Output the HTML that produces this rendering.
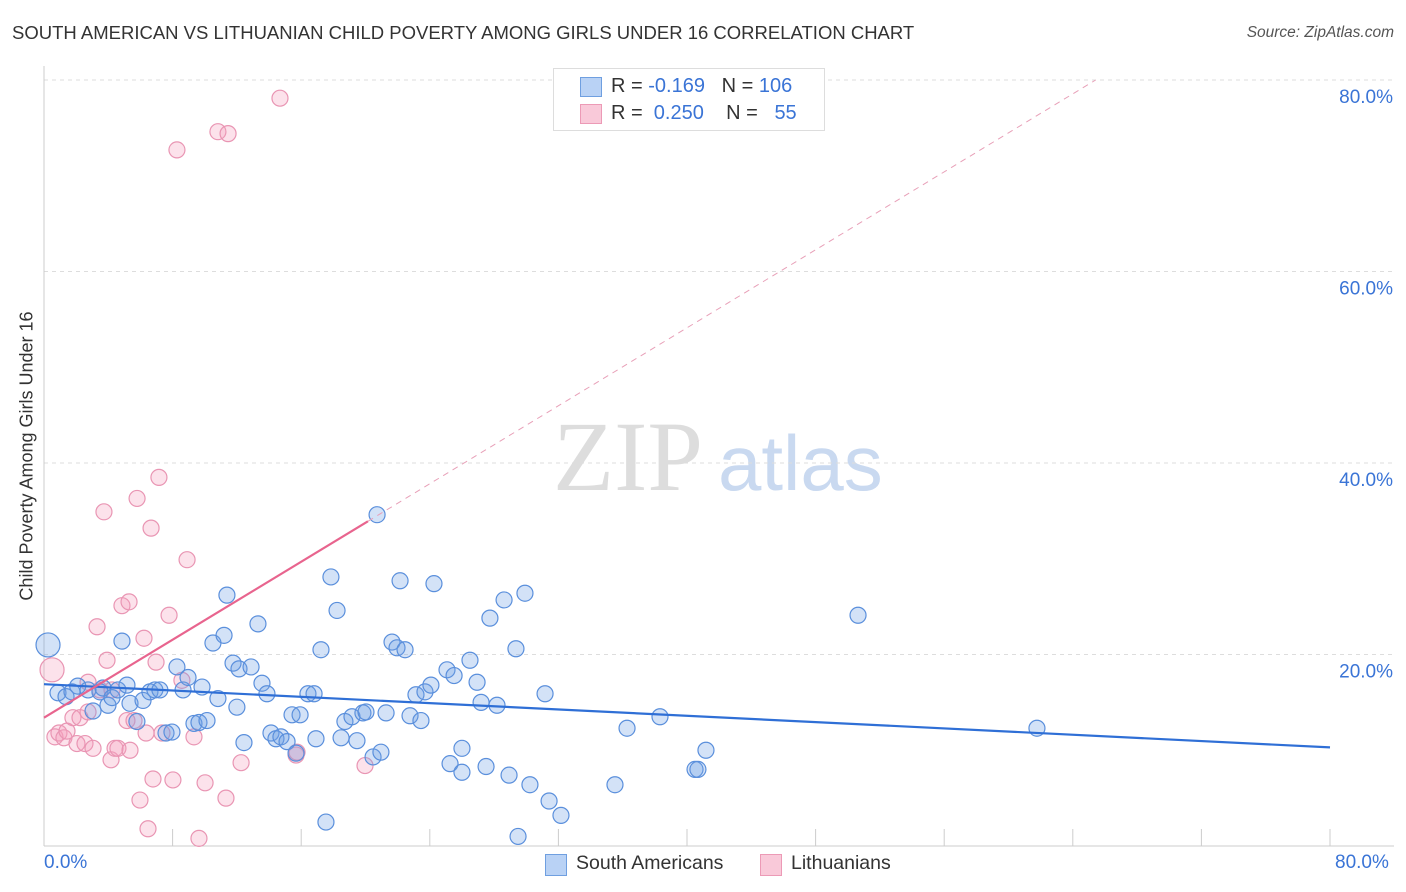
<!DOCTYPE html>
<html><head><meta charset="utf-8">
<style>
body{margin:0;width:1406px;height:892px;background:#fff;font-family:"Liberation Sans",sans-serif;overflow:hidden;position:relative}
.t{position:absolute;white-space:nowrap}
</style></head><body>
<div class="t" style="left:12px;top:22px;font-size:18.5px;color:#333">SOUTH AMERICAN VS LITHUANIAN CHILD POVERTY AMONG GIRLS UNDER 16 CORRELATION CHART</div>
<div class="t" style="right:12px;top:24px;font-size:15.5px;color:#555;font-style:italic">Source: ZipAtlas.com</div>
<svg id="chart" width="1406" height="892" style="position:absolute;left:0;top:0"></svg>
<script>
const yTicks=[20,40,60,80];
const yTickLabels=["20.0%","40.0%","60.0%","80.0%"];
const xTicks=[0,8,16,24,32,40,48,56,64,72,80];
const blueX=[0.25,0.87,1.37,1.74,2.1,2.74,3.05,3.48,3.67,3.98,4.23,4.6,4.85,5.16,5.35,5.78,6.16,6.59,6.9,7.21,7.59,7.96,8.27,8.65,8.96,9.33,9.64,9.83,10.14,10.51,10.82,11.2,11.38,11.76,12.0,12.13,12.44,12.88,13.31,13.56,13.87,14.12,14.43,14.74,15.12,15.43,15.68,15.93,16.42,16.8,16.92,17.23,17.54,17.85,18.23,18.48,18.72,19.16,19.47,19.84,20.03,20.47,20.72,20.96,21.28,21.65,21.96,22.15,22.46,22.77,23.14,23.45,23.7,24.07,24.26,25.07,25.26,25.51,26.0,26.0,26.5,26.94,27.19,27.5,27.74,28.18,28.62,28.93,29.36,29.49,29.92,30.23,31.17,31.42,32.16,35.52,36.27,38.32,40.5,40.68,41.18,50.64,61.77];
const blueY=[21.0,16.0,15.6,16.1,16.7,16.3,14.1,16.1,16.5,14.7,15.5,16.3,21.4,16.8,14.9,13.0,15.2,16.1,16.3,16.3,11.8,11.9,18.7,16.3,17.6,12.8,12.9,16.6,13.1,21.2,15.4,22.0,26.2,19.1,14.5,18.5,10.8,18.7,23.2,17.0,15.9,11.8,11.2,11.4,10.9,13.7,9.7,13.7,15.9,15.9,11.2,20.5,2.5,28.1,24.6,11.3,13.0,13.5,11.0,13.9,14.0,9.3,34.6,9.8,13.9,21.3,20.7,27.7,20.5,13.6,15.8,13.1,16.1,16.8,27.4,18.4,8.6,17.8,10.2,7.7,19.4,17.1,15.0,8.3,23.8,14.7,25.7,7.4,20.6,1.0,26.4,6.4,15.9,4.7,3.2,6.4,12.3,13.5,8.0,8.0,10.0,24.1,12.3];
const pinkX=[0.5,0.68,0.93,1.24,1.43,1.8,2.05,2.24,2.55,2.74,3.05,3.3,3.48,3.73,3.92,4.17,4.42,4.6,4.85,5.16,5.29,5.6,5.79,5.97,6.22,6.35,6.66,6.78,6.97,7.15,7.34,7.78,8.02,8.27,8.58,8.9,9.33,9.64,10.02,10.82,11.32,11.45,12.26,14.68,15.68,15.74,19.97,4.23,2.74,5.35,6.47];
const pinkY=[18.4,11.4,11.8,11.3,12.0,13.4,10.7,13.4,10.7,17.1,10.2,22.9,16.3,34.9,19.4,9.0,10.2,10.2,25.1,13.1,25.5,13.1,36.3,4.8,21.7,11.8,33.2,7.0,19.2,38.5,11.8,24.1,6.9,72.7,17.3,29.9,11.4,0.8,6.6,74.6,5.0,74.4,8.7,78.1,9.5,9.8,8.4,16.3,14.0,10.0,1.8];
const blueLine=[16.9,10.3];
const pinkLine=[13.4,1.018];
const NS="http://www.w3.org/2000/svg";
const svg=document.getElementById('chart');
const X=v=>44+v*16.075, Y=v=>846-v*9.575;
function mk(t,a,p){const e=document.createElementNS(NS,t);for(const k in a)e.setAttribute(k,a[k]);(p||svg).appendChild(e);return e;}
let w=mk('text',{x:553,y:490,'font-size':100,'font-family':'Liberation Serif, serif',fill:'#ddd'});w.textContent='ZIP';


w=mk('text',{x:718,y:490,'font-size':78,'font-family':'Liberation Sans, sans-serif',fill:'#c9d9f0'});w.textContent='atlas';


yTicks.forEach((v,i)=>{
 const g=mk('line',{x1:44,x2:1394,y1:Y(v),y2:Y(v),stroke:'#ddd','stroke-dasharray':'4,4'});
 
 
 const t=mk('text',{x:1393,y:Y(v)+23,'text-anchor':'end','font-size':19,fill:'#3a74d6'});t.textContent=yTickLabels[i];
 
 
});
let ax=mk('line',{x1:44,x2:44,y1:66,y2:846,stroke:'#ccc'});


ax=mk('line',{x1:44,x2:1394,y1:846,y2:846,stroke:'#ccc'});


xTicks.forEach(v=>{const l=mk('line',{x1:X(v),x2:X(v),y1:829,y2:846,stroke:'#ccc'});
 
 });
function dots(xs,ys,fill,stroke,name){xs.forEach((x,i)=>{const big=i===0;const c=mk('circle',{cx:X(x),cy:Y(ys[i]),r:big?12:8,fill:fill,stroke:stroke,'stroke-width':1.2});
 
 });}
dots(pinkX,pinkY,'rgba(244,160,190,0.3)','#e995b3','lithuanian-point');
dots(blueX,blueY,'rgba(110,160,230,0.3)','#5a8fdc','south-american-point');
let ln=mk('line',{x1:X(0),y1:Y(blueLine[0]),x2:X(80),y2:Y(blueLine[1]),stroke:'#2f6fd6','stroke-width':2.2});


const xe=(80-pinkLine[0])/pinkLine[1];
ln=mk('line',{x1:X(20.15),y1:Y(pinkLine[0]+pinkLine[1]*20.15),x2:X(xe),y2:Y(80),stroke:'#e8a0b8','stroke-width':1,'stroke-dasharray':'6,5'});


ln=mk('line',{x1:X(0),y1:Y(pinkLine[0]),x2:X(20.15),y2:Y(pinkLine[0]+pinkLine[1]*20.15),stroke:'#e8648e','stroke-width':2.2});


</script>
<div class="t" style="left:27px;top:456px;transform:translate(-50%,-50%) rotate(-90deg);font-size:18px;color:#333">Child Poverty Among Girls Under 16</div>
<div class="t" style="left:44px;top:852px;font-size:19px;color:#3a74d6">0.0%</div>
<div class="t" style="left:1335px;top:852px;font-size:19px;color:#3a74d6">80.0%</div>
<div style="position:absolute;left:553px;top:68px;width:270px;height:61px;border:1px solid #ddd;background:#fff;font-size:20px;color:#333">
 <div style="position:absolute;left:26px;top:8px;width:20px;height:18px;background:#b9d2f5;border:1px solid #6f9fe0"></div>
 <div class="t" style="left:57px;top:6px">R = <span style="color:#3a74d6">-0.169</span>&nbsp;&nbsp;&nbsp;N = <span style="color:#3a74d6">106</span></div>
 <div style="position:absolute;left:26px;top:35px;width:20px;height:18px;background:#f9c9d9;border:1px solid #ec9ab6"></div>
 <div class="t" style="left:57px;top:33px">R = &nbsp;<span style="color:#3a74d6">0.250</span>&nbsp;&nbsp;&nbsp;&nbsp;N = &nbsp;&nbsp;<span style="color:#3a74d6">55</span></div>
</div>
<div style="position:absolute;left:545px;top:852px;font-size:19.5px;color:#333">
 <div style="position:absolute;left:0;top:2px;width:20px;height:20px;background:#b9d2f5;border:1px solid #6f9fe0"></div>
 <div class="t" style="left:31px;top:0">South Americans</div></div>
<div style="position:absolute;left:760px;top:852px;font-size:19.5px;color:#333">
 <div style="position:absolute;left:0;top:2px;width:20px;height:20px;background:#f9c9d9;border:1px solid #ec9ab6"></div>
 <div class="t" style="left:31px;top:0">Lithuanians</div></div>
</body></html>
